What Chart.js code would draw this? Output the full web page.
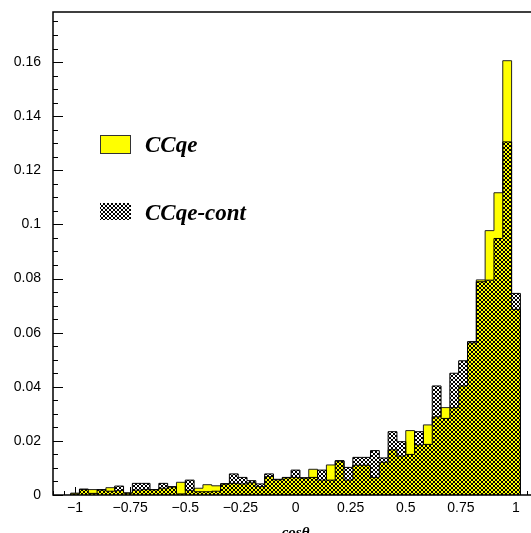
<!DOCTYPE html>
<html>
<head>
<meta charset="utf-8">
<script src="https://cdn.jsdelivr.net/npm/chart.js@4/dist/chart.umd.min.js"></script>
<style>
  html, body { margin: 0; padding: 0; background: #fff; }
  canvas { display: block; }
</style>
</head>
<body>
<canvas id="c" width="531" height="533"></canvas>
<script>
// bin centres in cos(theta), bin width 0.04
const cosBins = [-1, -0.96, -0.92, -0.88, -0.84, -0.8, -0.76, -0.72, -0.68, -0.64,
  -0.6, -0.56, -0.52, -0.48, -0.44, -0.4, -0.36, -0.32, -0.28, -0.24,
  -0.2, -0.16, -0.12, -0.08, -0.04, 0, 0.04, 0.08, 0.12, 0.16,
  0.2, 0.24, 0.28, 0.32, 0.36, 0.4, 0.44, 0.48, 0.52, 0.56,
  0.6, 0.64, 0.68, 0.72, 0.76, 0.8, 0.84, 0.88, 0.92, 0.96, 1];
const binWidth = 0.04;

const ccqe = [0.0007, 0.0020, 0.0020, 0.0018, 0.0027, 0.0016, 0.0008, 0.0018, 0.0020, 0.0019,
  0.0025, 0.0029, 0.0047, 0.0017, 0.0025, 0.0038, 0.0034, 0.0040, 0.0043, 0.0041,
  0.0045, 0.0031, 0.0068, 0.0056, 0.0063, 0.0065, 0.0062, 0.0095, 0.0055, 0.0111,
  0.0125, 0.0055, 0.0110, 0.0110, 0.0065, 0.0121, 0.0167, 0.0144, 0.0238, 0.0185,
  0.0259, 0.0289, 0.0323, 0.0323, 0.0403, 0.0562, 0.0795, 0.0977, 0.1117, 0.1605, 0.0686];

const ccqeCont = [0.0004, 0.0022, 0.0006, 0.0020, 0.0014, 0.0033, 0.0007, 0.0043, 0.0043, 0.0020,
  0.0043, 0.0031, 0.0004, 0.0055, 0.0012, 0.0012, 0.0014, 0.0042, 0.0078, 0.0065,
  0.0053, 0.0041, 0.0078, 0.0058, 0.0065, 0.0092, 0.0064, 0.0065, 0.0092, 0.0055,
  0.0127, 0.0102, 0.0139, 0.0139, 0.0164, 0.0137, 0.0234, 0.0197, 0.0150, 0.0234,
  0.0187, 0.0403, 0.0283, 0.0450, 0.0496, 0.0567, 0.0788, 0.0794, 0.0948, 0.1305, 0.0745];

const legendLabels = ['CCqe', 'CCqe-cont'];
const xTitle = 'cos\u03B8';

// histogram outline as stepped points: up at the left edge, flat over each bin, down at the end
function histPoints(vals) {
  let pts = [{x: cosBins[0] - binWidth/2, y: 0}];
  vals.forEach((v, i) => pts.push({x: cosBins[i] + binWidth/2, y: v}));
  pts.push({x: cosBins[cosBins.length-1] + binWidth/2, y: 0});
  return pts;
}

const canvas = document.getElementById('c');
const ctx = canvas.getContext('2d');

// fine cross-hatch, transparent between the lines
function makeHatch() {
  let tile = document.createElement('canvas');
  tile.width = 4; tile.height = 4;
  let g = tile.getContext('2d');
  g.fillStyle = '#000';
  for (let i = 0; i < 4; i++) { g.fillRect(i, i, 1, 1); g.fillRect(3-i, i, 1, 1); }
  return ctx.createPattern(tile, 'repeat');
}
const hatch = makeHatch();
const yellow = '#ffff00';

const isMult = (v, s) => Math.abs(v/s - Math.round(v/s)) < 1e-6;

const frame = {
  id: 'frame',
  beforeDatasetsDraw(chart) {
    const {ctx, chartArea: a, scales: {x, y}} = chart;
    ctx.save();
    ctx.strokeStyle = '#000';
    ctx.lineWidth = 1;
    ctx.beginPath();
    y.ticks.forEach(t => {
      let py = Math.round(y.getPixelForValue(t.value)) + 0.5;
      ctx.moveTo(a.left, py); ctx.lineTo(a.left + (t.label ? 10 : 5), py);
    });
    x.ticks.forEach(t => {
      let px = Math.round(x.getPixelForValue(t.value)) + 0.5;
      ctx.moveTo(px, a.bottom); ctx.lineTo(px, a.bottom - (t.label ? 8 : 4));
    });
    ctx.stroke();
    ctx.restore();
  },
  afterDatasetsDraw(chart) {
    const {ctx, chartArea: a} = chart;
    ctx.save();
    ctx.strokeStyle = '#000';
    ctx.lineWidth = 1.5;
    ctx.beginPath();
    ctx.moveTo(chart.width, a.top); ctx.lineTo(a.left, a.top);
    ctx.lineTo(a.left, a.bottom); ctx.lineTo(chart.width, a.bottom);
    ctx.stroke();
    ctx.restore();
  },
  afterDraw(chart) {
    const {ctx} = chart;
    ctx.save();
    // legend
    ctx.fillStyle = yellow;
    ctx.fillRect(100, 135, 31, 18);
    ctx.strokeStyle = '#333';
    ctx.lineWidth = 1;
    ctx.strokeRect(100.5, 135.5, 30, 18);
    ctx.fillStyle = hatch;
    ctx.fillRect(100, 203, 31, 17);
    ctx.fillStyle = '#000';
    ctx.font = 'bold italic 23px "Liberation Serif", "Times New Roman", serif';
    ctx.textBaseline = 'alphabetic';
    ctx.fillText(legendLabels[0], 145, 152);
    ctx.fillText(legendLabels[1], 145, 220);
    // axis title, sits partly below the canvas edge
    ctx.font = 'bold italic 15px "Liberation Serif", serif';
    ctx.textAlign = 'center';
    ctx.fillText(xTitle, chart.scales.x.getPixelForValue(0), 537);
    ctx.restore();
  }
};

new Chart(canvas, {
  type: 'line',
  data: {
    datasets: [
      {label: legendLabels[1], data: histPoints(ccqeCont), stepped: 'after', fill: 'origin',
       backgroundColor: hatch, borderColor: '#000', borderWidth: 1, pointRadius: 0, order: 1},
      {label: legendLabels[0], data: histPoints(ccqe), stepped: 'after', fill: 'origin',
       backgroundColor: yellow, borderColor: '#222', borderWidth: 1, pointRadius: 0, order: 2}
    ]
  },
  options: {
    responsive: false,
    animation: false,
    layout: {padding: {top: 12, right: 0, left: 0, bottom: 0}},
    plugins: {legend: {display: false}, tooltip: {enabled: false}},
    scales: {
      x: {
        type: 'linear', min: -1.1, max: 1.068, bounds: 'data',
        grid: {display: false, drawTicks: false}, border: {display: false},
        afterFit: s => { s.height = 38; s.paddingLeft = 0; s.paddingRight = 0; },
        ticks: {
          stepSize: 0.05, includeBounds: false, autoSkip: false, maxRotation: 0, padding: 5,
          color: '#000', font: {family: '"Liberation Sans", Arial, sans-serif', size: 14},
          callback: v => isMult(v, 0.25) ? String(+v.toFixed(2)).replace('-', '\u2212') : ''
        }
      },
      y: {
        min: 0, max: 0.1785, bounds: 'data',
        grid: {display: false, drawTicks: false}, border: {display: false},
        afterFit: s => { s.width = 53; s.paddingTop = 0; s.paddingBottom = 0; },
        ticks: {
          stepSize: 0.005, includeBounds: false, autoSkip: false, padding: 12,
          color: '#000', font: {family: '"Liberation Sans", Arial, sans-serif', size: 14},
          callback: v => isMult(v, 0.02) ? String(+v.toFixed(2)) : ''
        }
      }
    }
  },
  plugins: [frame]
});
</script>
</body>
</html>
